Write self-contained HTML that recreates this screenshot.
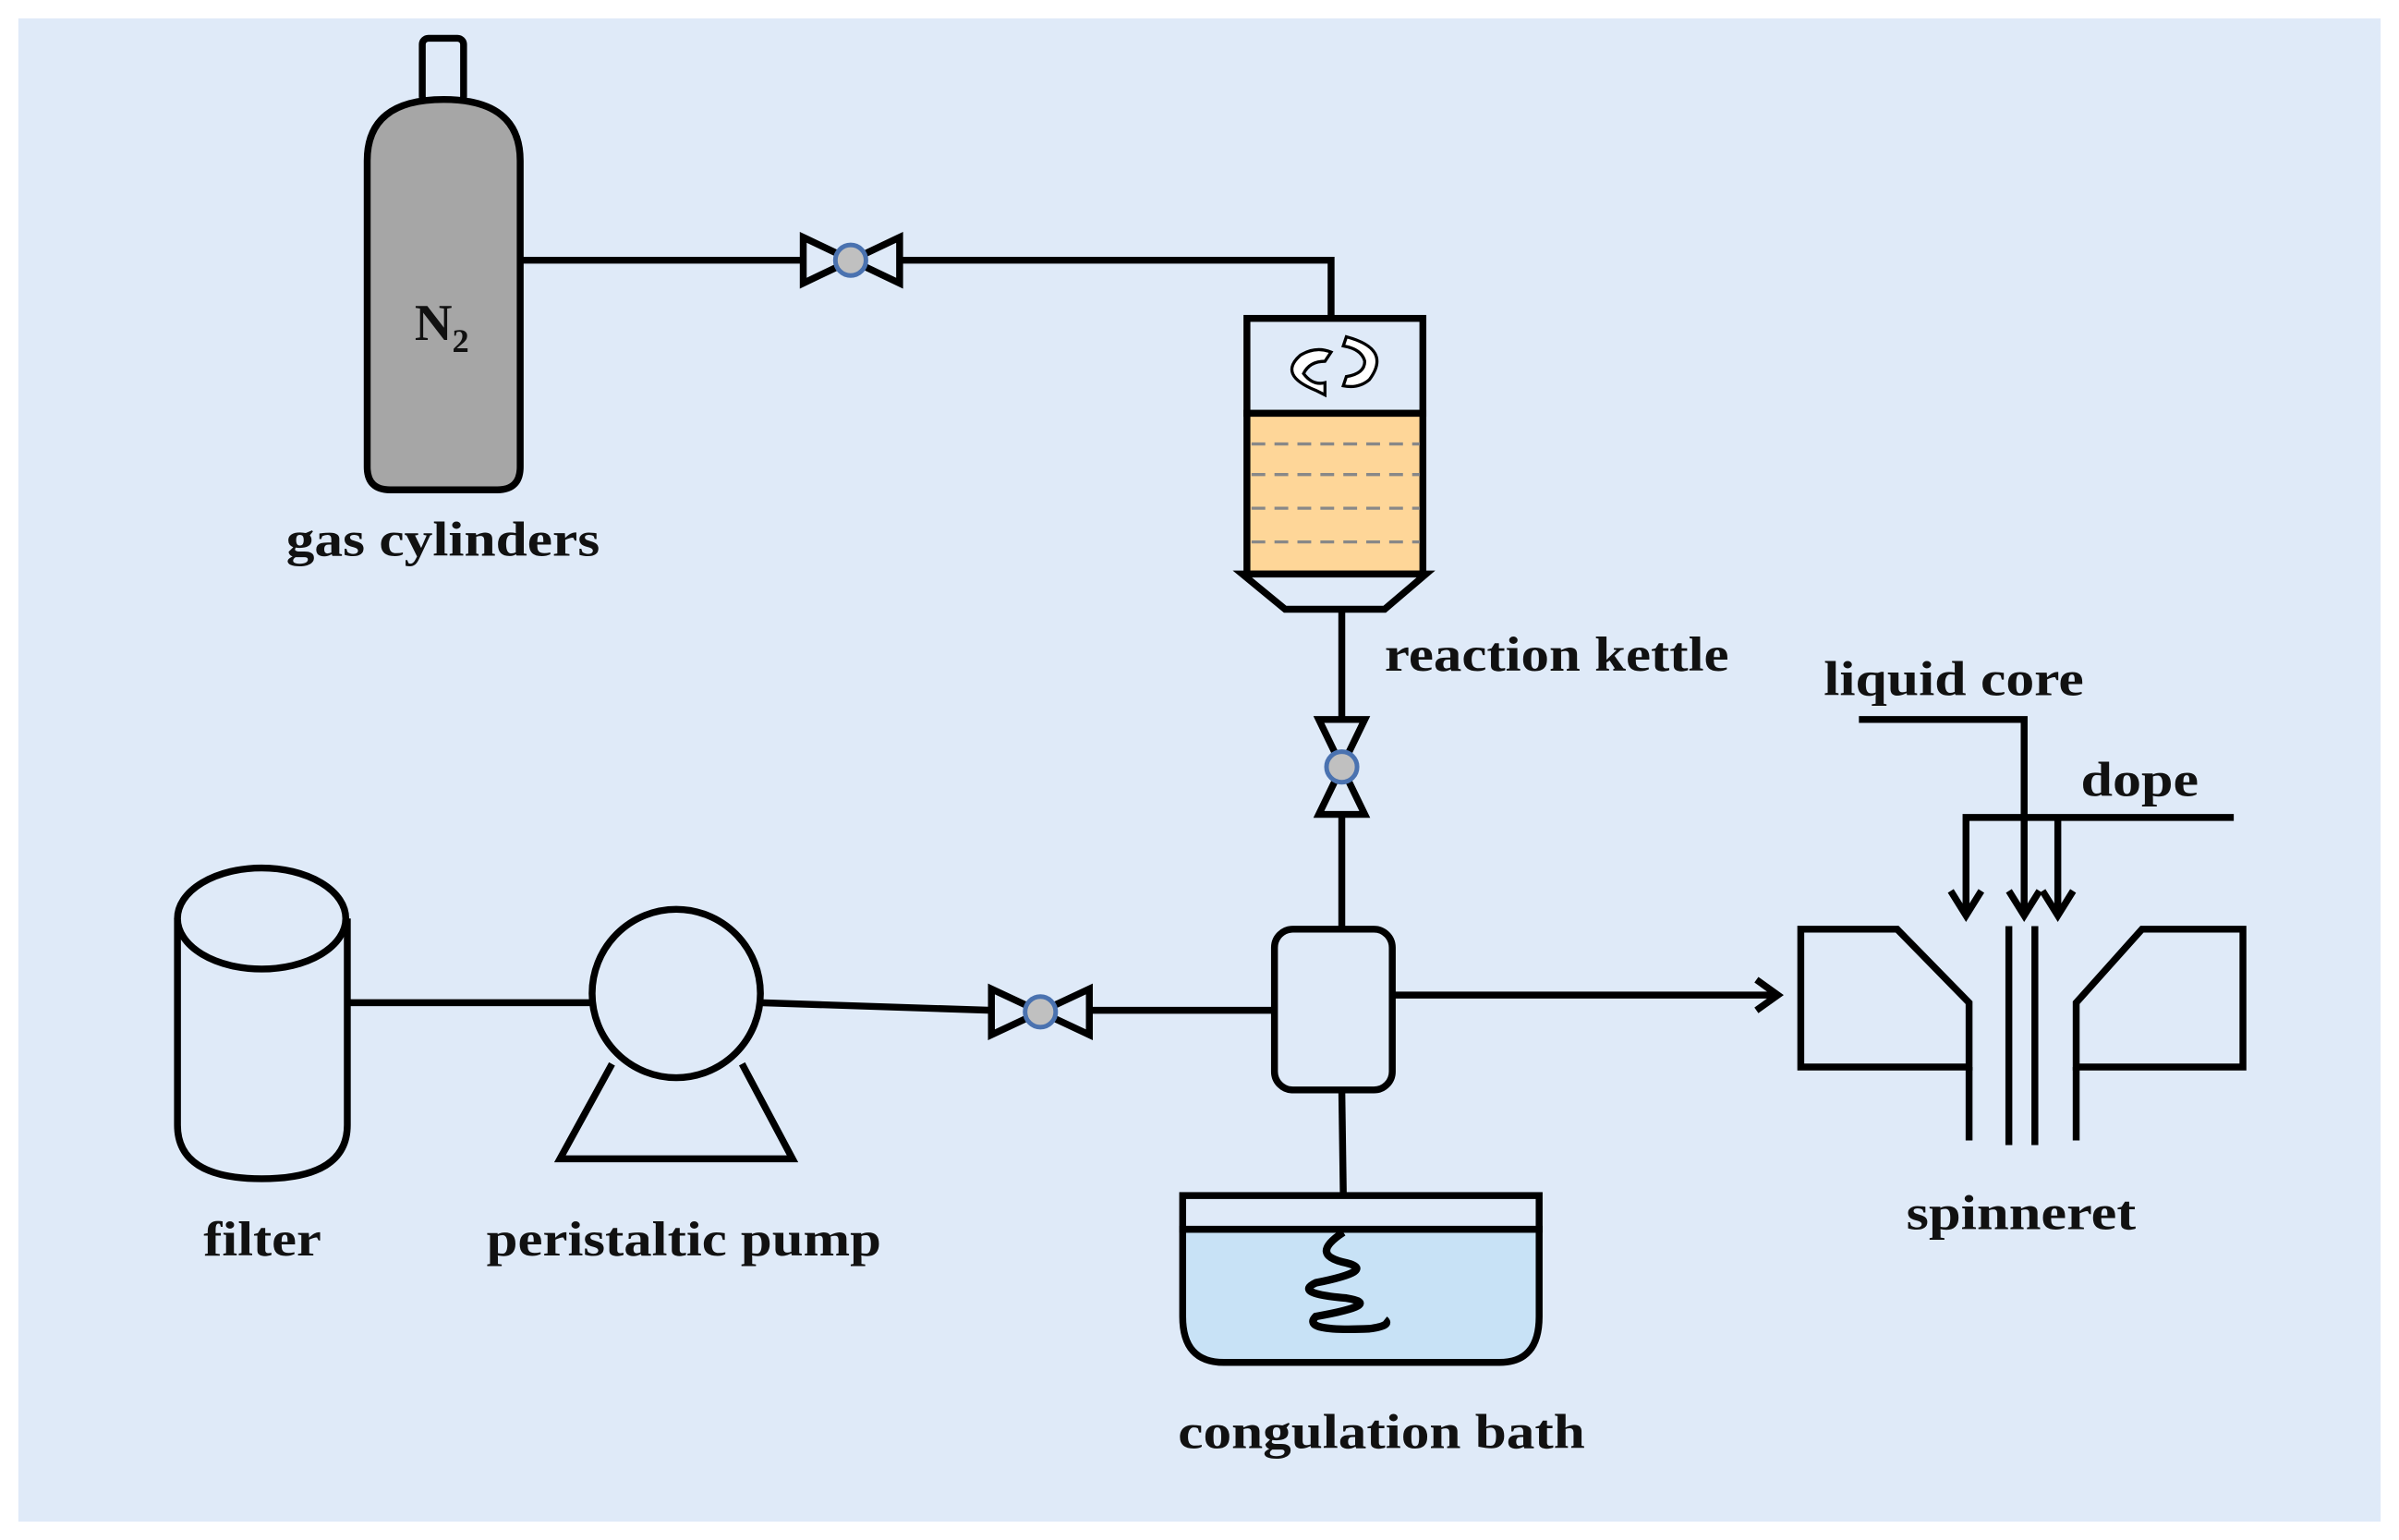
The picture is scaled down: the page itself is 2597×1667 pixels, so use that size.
<!DOCTYPE html>
<html><head><meta charset="utf-8"><style>
html,body{margin:0;padding:0;background:#fff;}
svg{display:block;}
text{font-family:"Liberation Serif",serif;font-weight:bold;font-size:32px;fill:#111;}
</style></head><body>
<svg width="2597" height="1667" viewBox="0 0 1568 1006" preserveAspectRatio="none" xmlns="http://www.w3.org/2000/svg">
<rect x="0" y="0" width="1568" height="1006" fill="#fff"/>
<rect x="12" y="12" width="1544" height="982" fill="#dfeaf8"/>
<g stroke="#000" stroke-width="4.5" fill="none">
<rect x="276" y="25" width="27" height="42" rx="4" fill="#dfeaf8"/>
<path d="M240,105 Q240,65 290,65 Q340,65 340,105 L340,305 Q340,320 325,320 L255,320 Q240,320 240,305 Z" fill="#a6a6a6"/>
<path d="M340,170 H525 M588,170 H870 V208"/>
<path d="M525,155 L588,185 L588,155 L525,185 Z" fill="#dfeaf8"/>
<rect x="815" y="208" width="115" height="62" fill="#dfeaf8"/>
<rect x="815" y="270" width="115" height="105" fill="#fed698"/>
<path d="M812,375 L932,375 L905,398 L840,398 Z" fill="#dfeaf8"/>
<path d="M877,398 V470 M877,532 V607"/>
<path d="M862,470 L892,532 L862,532 L892,470 Z" fill="#dfeaf8"/>
<rect x="833" y="607" width="77" height="105" rx="12" fill="#dfeaf8"/>
<path d="M910,650 H1160 M1148,640 L1162,650 L1148,660"/>
<path d="M712,660 H833 M497,655 L648,660"/>
<path d="M648,646 L712,676 L712,646 L648,676 Z" fill="#dfeaf8"/>
<path d="M400,695 L366,757 L518,757 L485,695"/>
<circle cx="442" cy="649" r="55" fill="#dfeaf8"/>
<path d="M227,655 H388"/>
<path d="M116,600 V735 Q116,770 171,770 Q227,770 227,735 V600" fill="#dfeaf8"/>
<ellipse cx="171" cy="600" rx="55" ry="33" fill="#dfeaf8"/>
<path d="M877,712 L878,781"/>
<path d="M773,803 V860 Q773,890 800,890 L980,890 Q1006,890 1006,860 V803 Z" fill="#c8e2f6"/>
<rect x="773" y="781" width="233" height="22" fill="#dfeaf8"/>
<path d="M878,805 Q855,820 880,825 Q900,830 860,838 Q845,845 880,848 Q905,852 860,860 Q850,870 895,868 Q910,866 905,862" stroke-width="5"/>
<path d="M1177,607 L1240,607 L1287,655 L1287,697 L1177,697 Z" fill="#dfeaf8"/>
<path d="M1466,607 L1400,607 L1357,655 L1357,697 L1466,697 Z" fill="#dfeaf8"/>
<path d="M1287,697 V745 M1357,697 V745 M1313,605 V748 M1330,605 V748"/>
<path d="M1215,470 H1323 V597 M1313,582 L1323,598 L1333,582"/>
<path d="M1460,534 H1285 V597 M1275,582 L1285,598 L1295,582 M1345,534 V597 M1335,582 L1345,598 L1355,582"/>
</g>
<g stroke="#888" stroke-width="2" stroke-dasharray="9,6">
<path d="M818,290 H928 M818,310 H928 M818,332 H928 M818,354 H928"/>
</g>
<g fill="#c0c0c0" stroke="#4a72b0" stroke-width="3">
<circle cx="556" cy="170" r="10"/>
<circle cx="877" cy="501" r="10"/>
<circle cx="680" cy="661" r="10"/>
</g>
<g stroke="#000" stroke-width="2" fill="#fff">
<path d="M860,255 Q835,245 850,232 Q860,226 870,230 L866,236 Q856,236 852,244 Q858,252 866,250 L866,258 Z"/>
<path d="M880,220 Q910,228 895,248 Q888,254 878,252 L880,246 Q892,244 892,236 Q890,228 878,226 Z"/>
</g>
<text x="271" y="222" style="font-size:34px">N<tspan dy="8" style="font-size:22px">2</tspan></text>
<text x="187" y="363" textLength="205" lengthAdjust="spacingAndGlyphs">gas cylinders</text>
<text x="905" y="438" textLength="225" lengthAdjust="spacingAndGlyphs">reaction kettle</text>
<text x="1192" y="454" textLength="170" lengthAdjust="spacingAndGlyphs">liquid core</text>
<text x="1360" y="520" textLength="77" lengthAdjust="spacingAndGlyphs">dope</text>
<text x="133" y="820" textLength="77" lengthAdjust="spacingAndGlyphs">filter</text>
<text x="318" y="820" textLength="258" lengthAdjust="spacingAndGlyphs">peristaltic pump</text>
<text x="770" y="946" textLength="266" lengthAdjust="spacingAndGlyphs">congulation bath</text>
<text x="1246" y="803" textLength="150" lengthAdjust="spacingAndGlyphs">spinneret</text>
</svg>
</body></html>
